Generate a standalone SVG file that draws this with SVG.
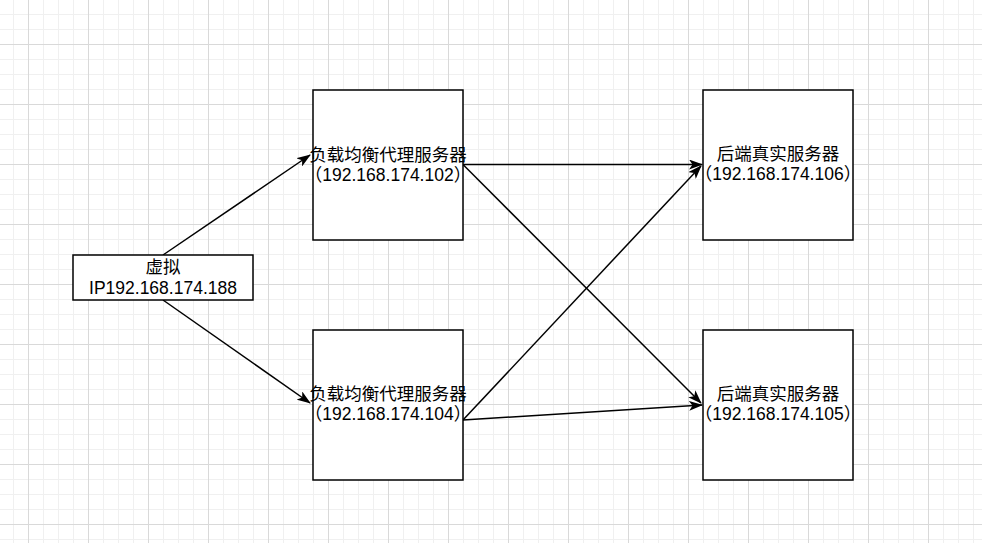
<svg xmlns="http://www.w3.org/2000/svg" width="982" height="543" viewBox="0 0 982 543">
<style>
.box{fill:#ffffff;stroke:#000000;stroke-width:1.5}
.lbl{font-family:"Liberation Sans","Noto Sans CJK SC",sans-serif;font-size:17.5px;fill:#000000;text-anchor:middle}
.edge{fill:none;stroke:#000000;stroke-width:1.5;marker-end:url(#arrow)}
</style>
<defs>
<pattern id="grid" patternUnits="userSpaceOnUse" x="28" y="44" width="60" height="60">
<rect x="0" y="0" width="60" height="60" fill="#ffffff"/>
<rect x="15" y="0" width="1" height="60" fill="#f0f0f0"/>
<rect x="30" y="0" width="1" height="60" fill="#f0f0f0"/>
<rect x="45" y="0" width="1" height="60" fill="#f0f0f0"/>
<rect x="0" y="15" width="60" height="1" fill="#f0f0f0"/>
<rect x="0" y="30" width="60" height="1" fill="#f0f0f0"/>
<rect x="0" y="45" width="60" height="1" fill="#f0f0f0"/>
<rect x="0" y="0" width="1" height="60" fill="#d9d9d9"/>
<rect x="0" y="0" width="60" height="1" fill="#d9d9d9"/>
</pattern>
<marker id="arrow" markerUnits="userSpaceOnUse" viewBox="0 0 14 10" refX="13" refY="5" markerWidth="14" markerHeight="10" orient="auto">
<path d="M0,0 L14,5 L0,10 L3.5,5 Z" fill="#000000"/>
</marker>
</defs>
<rect x="0" y="0" width="982" height="543" fill="url(#grid)"/>
<g id="connectors">
<path class="edge" d="M163,255 L310,155"/>
<path class="edge" d="M163,300 L310,403"/>
<path class="edge" d="M463,164.5 L702,164.5"/>
<path class="edge" d="M463,164.5 L701,403"/>
<path class="edge" d="M463,420 L701,166"/>
<path class="edge" d="M463,420 L702,405"/>
</g>
<g id="vip">
<rect class="box" x="73" y="255" width="180" height="45"/>
<text class="lbl" x="163" y="273">虚拟</text>
<text class="lbl" x="163" y="294">IP192.168.174.188</text>
</g>
<g id="lb1">
<rect class="box" x="313" y="90" width="150" height="150"/>
<text class="lbl" x="388" y="161">负载均衡代理服务器</text>
<text class="lbl" x="388" y="181">（192.168.174.102）</text>
</g>
<g id="lb2">
<rect class="box" x="313" y="330" width="150" height="150"/>
<text class="lbl" x="388" y="400">负载均衡代理服务器</text>
<text class="lbl" x="388" y="420">（192.168.174.104）</text>
</g>
<g id="rs106">
<rect class="box" x="703" y="90" width="150" height="150"/>
<text class="lbl" x="778" y="160">后端真实服务器</text>
<text class="lbl" x="778" y="180">（192.168.174.106）</text>
</g>
<g id="rs105">
<rect class="box" x="703" y="330" width="150" height="150"/>
<text class="lbl" x="778" y="400">后端真实服务器</text>
<text class="lbl" x="778" y="420">（192.168.174.105）</text>
</g>
</svg>
